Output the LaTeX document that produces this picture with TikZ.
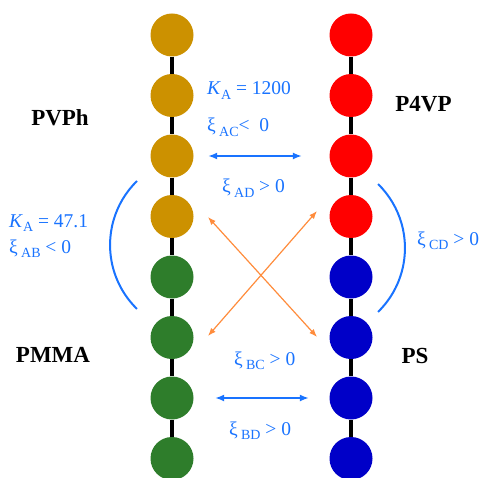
\documentclass[tikz,border=0pt]{standalone}
\usepackage{fontspec}
\setmainfont{Liberation Serif}
\usetikzlibrary{arrows.meta}
\definecolor{gold}{RGB}{204,145,0}
\definecolor{pred}{RGB}{255,0,0}
\definecolor{pgreen}{RGB}{46,125,43}
\definecolor{pblue}{RGB}{0,0,200}
\definecolor{txtblue}{RGB}{25,115,255}
\definecolor{porange}{RGB}{255,140,60}
\newcommand{\xsub}[1]{ξ\,\raisebox{-0.22em}{\fontsize{14}{14}\selectfont #1}}
\newcommand{\KA}{\textit{K}\raisebox{-0.22em}{\fontsize{14}{14}\selectfont A}}
\tikzset{
  bead/.style={circle, minimum size=43pt, inner sep=0pt, draw=none, fill=#1},
  bond/.style={line width=3.2pt, black},
  lbl/.style={font=\fontsize{23}{23}\selectfont\bfseries, inner sep=0pt},
  btxt/.style={font=\fontsize{19.5}{19.5}\selectfont, text=txtblue, inner sep=0pt, anchor=base west},
  barrow/.style={txtblue, line width=1.5pt, {Latex[length=9pt,width=7pt]}-{Latex[length=9pt,width=7pt]}},
  oarrow/.style={porange, line width=1.2pt, {Latex[length=8pt,width=6pt]}-{Latex[length=8pt,width=6pt]}},
  barc/.style={txtblue, line width=2pt}
}
\begin{document}
\begin{tikzpicture}[x=1pt,y=1pt]
\useasboundingbox (0,0) rectangle (489,-478);
\clip (0,0) rectangle (489,-478);
% left chain
\foreach \i/\y in {1/35,2/95.5,3/156,4/216.5}{\node[bead=gold] (a\i) at (172,-\y) {};}
\foreach \i/\y in {5/277,6/337.5,7/398,8/458.5}{\node[bead=pgreen] (a\i) at (172,-\y) {};}
% right chain
\foreach \i/\y in {1/35,2/95.5,3/156,4/216.5}{\node[bead=pred] (c\i) at (351,-\y) {};}
\foreach \i/\y in {5/277,6/337.5,7/398,8/458.5}{\node[bead=pblue] (c\i) at (351,-\y) {};}
\foreach \i [evaluate=\i as \j using int(\i+1)] in {1,...,7}{
  \draw[bond] (a\i) -- (a\j);
  \draw[bond] (c\i) -- (c\j);
}
% labels
\node[lbl] (pvph) at (60,-118) {PVPh};
\node[lbl] (p4vp) at (423.5,-104) {P4VP};
\node[lbl] (pmma) at (53,-355) {PMMA};
\node[lbl] (ps) at (415,-356) {PS};
% blue arrows
\draw[barrow, shorten <=14.5pt, shorten >=27.5pt] (a3) -- (c3);
\draw[barrow, shorten <=21.5pt, shorten >=20.5pt] (a7) -- (c7);
% orange arrows
\coordinate (o1) at (208,-217);
\coordinate (o2) at (317,-337);
\coordinate (o3) at (208,-336);
\coordinate (o4) at (317,-211);
\draw[oarrow] (o1) -- (o2);
\draw[oarrow] (o3) -- (o4);
% arcs
\coordinate (l1) at (137,-181);
\coordinate (r1) at (378,-184);
\draw[barc] (l1) arc[start angle=134.3, end angle=225.7, radius=89.4];
\draw[barc] (r1) arc[start angle=45.7, end angle=-45.7, radius=89.4];
% blue texts
\node[btxt] (t1) at (207,-95) {\KA\ = 1200};
\node[btxt] (t2) at (207,-132) {\xsub{AC}< \ 0};
\node[btxt] (t3) at (222,-193) {\xsub{AD} > 0};
\node[btxt] (t4) at (9,-227) {\KA\ = 47.1};
\node[btxt] (t5) at (9,-253) {\xsub{AB} < 0};
\node[btxt] (t6) at (417,-245) {\xsub{CD} > 0};
\node[btxt] (t7) at (234,-365) {\xsub{BC} > 0};
\node[btxt] (t8) at (229,-435) {\xsub{BD} > 0};
\end{tikzpicture}
\end{document}
